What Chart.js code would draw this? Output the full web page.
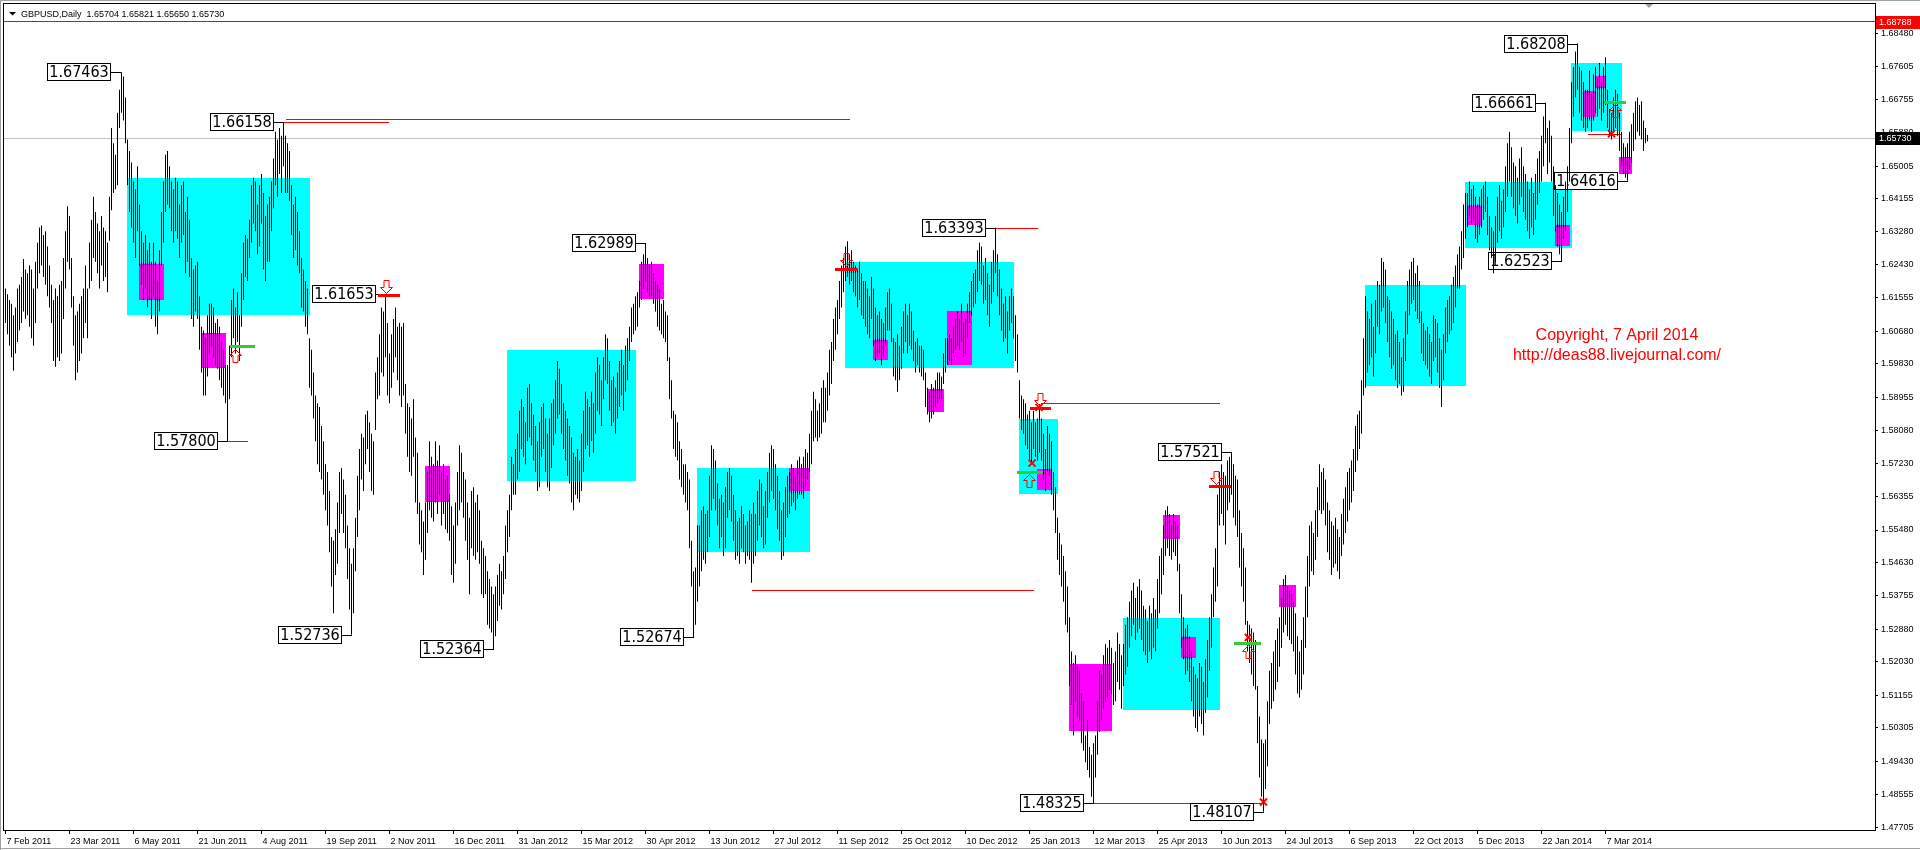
<!DOCTYPE html>
<html>
<head>
<meta charset="utf-8">
<title>GBPUSD, Daily</title>
<script src="https://cdn.jsdelivr.net/npm/chart.js@4.4.1/dist/chart.umd.min.js"></script>
<style>
  html, body { margin: 0; padding: 0; background: #fff; }
  #wrap { width: 1920px; height: 850px; }
</style>
</head>
<body>
<div id="wrap"><canvas id="gbpusd" width="1920" height="850"></canvas></div>
<script>
// daily bars as [high, low], in pips above 1.0000
const bars2011 = [
  [6180,6090],[6165,6060],[6150,6030],[6140,6000],[6110,5965],[6130,6010],[6180,6040],[6190,6070],[6210,6090],[6257,6120],
  [6230,6100],[6220,6110],[6240,6080],[6230,6050],[6180,6030],[6250,6090],[6300,6180],[6340,6220],[6345,6240],[6320,6210],
  [6330,6190],[6290,6160],[6240,6130],[6190,6090],[6150,5990],[6180,5975],[6160,6000],[6190,5990],[6200,6010],[6260,6100],
  [6330,6180],[6395,6250],[6370,6230],[6260,6130],[6160,6030],[6110,5940],[6120,5960],[6140,5990],[6160,6010],[6180,6050],
  [6240,6090],[6180,6050],[6300,6180],[6360,6200],[6420,6260],[6380,6250],[6350,6220],[6330,6180],[6370,6240],[6340,6200],
  [6330,6210],[6300,6170],[6420,6305],[6600,6385],[6560,6430],[6530,6440],[6640,6450],[6700,6600],[6746,6640],[6735,6620],
  [6680,6560],[6570,6450],[6540,6380],[6510,6340],[6460,6300],[6440,6260],[6500,6330],[6400,6240],[6330,6190],[6300,6150],
  [6320,6180],[6280,6130],[6300,6150],[6250,6100],[6300,6160],[6250,6080],[6200,6060],[6280,6120],[6380,6240],[6460,6300],
  [6530,6380],[6540,6400],[6500,6390],[6460,6330],[6440,6300],[6470,6330],[6460,6310],[6400,6260],[6450,6300],[6460,6320],
  [6380,6220],[6420,6250],[6360,6210],[6260,6100],[6230,6080],[6240,6120],[6250,6100],[6160,6020],[6080,5960],[6070,5900],
  [6050,5900],[6110,5950],[6140,6010],[6140,6030],[6130,6000],[6090,5980],[6100,5970],[6080,5940],[6040,5920],[6020,5900],
  [5980,5880],[5980,5780],[6030,5890],[6150,6000],[6180,6050],[6130,6010],[6170,6040],[6110,5990],[6220,6080],[6300,6150],
  [6320,6210],[6310,6200],[6360,6260],[6450,6300],[6470,6350],[6460,6330],[6400,6270],[6450,6290],[6480,6350],[6430,6230],
  [6370,6200],[6400,6250],[6420,6250],[6460,6330],[6520,6390],[6590,6450],[6570,6420],[6600,6480],[6580,6430],[6616,6500],
  [6580,6430],[6560,6430],[6540,6410],[6450,6320],[6400,6260],[6420,6280],[6380,6240],[6330,6220],[6260,6130],[6230,6120],
  [6200,6080],[6180,6060],[6050,5920],[6020,5900],[5960,5840],[5900,5780],[5880,5720],[5870,5700],[5820,5680],[5780,5640],
  [5720,5600],[5700,5560],[5650,5490],[5530,5400],[5520,5330],[5550,5430],[5620,5460],[5700,5540],[5710,5590],[5680,5540],
  [5640,5500],[5560,5420],[5500,5340],[5460,5274],[5500,5330],[5580,5440],[5690,5530],[5760,5600],[5800,5680],[5790,5650],
  [5850,5720],[5860,5760],[5830,5700],[5800,5650],[5780,5640],[5960,5810],[6000,5890],[6060,5900],[6130,5960],[6120,5950],
  [6165,6000],[6090,5900],[6010,5880],[6060,5920],[6100,5960],[6130,6000],[6080,5940],[6090,5900],[6080,5870],[6090,5900],
  [5930,5800],[5880,5740],[5870,5700],[5840,5690],[5890,5740],[5790,5620],[5750,5590],[5620,5510],[5600,5490],[5570,5430],
  [5620,5470],[5700,5540],[5780,5600],[5740,5580],[5720,5570],[5780,5620],[5730,5590],[5770,5640],[5700,5560],[5720,5590],
  [5680,5550],[5690,5540],[5640,5520],[5610,5430],[5560,5410],[5620,5460],[5700,5560],[5770,5600],[5750,5620],[5700,5580],
  [5680,5520],[5620,5470],[5580,5380],[5650,5500],[5660,5480]
];
const bars2012 = [
  [5620,5470],[5640,5490],[5600,5460],[5520,5380],[5500,5370],[5480,5380],[5440,5300],[5420,5290],[5400,5280],[5380,5236],
  [5400,5270],[5430,5310],[5460,5350],[5440,5340],[5480,5380],[5560,5420],[5600,5490],[5640,5530],[5740,5600],[5720,5640],
  [5760,5640],[5800,5680],[5860,5700],[5890,5760],[5870,5740],[5830,5720],[5920,5780],[5930,5790],[5880,5770],[5850,5730],
  [5820,5700],[5780,5650],[5830,5660],[5870,5740],[5880,5760],[5840,5700],[5800,5660],[5840,5650],[5880,5710],[5890,5770],
  [5940,5800],[5990,5840],[5970,5850],[5930,5800],[5880,5760],[5860,5730],[5840,5690],[5820,5670],[5790,5620],[5750,5600],
  [5740,5640],[5760,5630],[5730,5620],[5800,5650],[5860,5700],[5910,5760],[5890,5770],[5870,5740],[5910,5780],[5880,5750],
  [5960,5800],[6000,5860],[5980,5850],[5940,5820],[6000,5890],[6060,5940],[6050,5930],[5990,5860],[5940,5820],[5950,5830],
  [5920,5800],[5960,5840],[5990,5870],[6020,5900],[5980,5860],[6030,5910],[6050,5940],[6080,5990],[6130,6040],[6140,6060],
  [6160,6070],[6170,6080],[6200,6130],[6250,6150],[6270,6180],[6299,6200],[6260,6170],[6240,6160],[6250,6160],[6220,6140],
  [6200,6120],[6190,6080],[6180,6070],[6140,6060],[6150,6050],[6120,6040],[6110,5990],[6000,5890],[5940,5840],[5860,5760],
  [5850,5740],[5830,5730],[5780,5680],[5760,5660],[5720,5640],[5720,5620],[5700,5600],[5680,5500],[5520,5400],[5440,5268],
  [5450,5300],[5560,5360],[5560,5400],[5600,5440],[5610,5470],[5590,5460],[5600,5490],[5690,5530],[5770,5600],[5760,5630],
  [5730,5600],[5670,5560],[5630,5500],[5640,5530],[5620,5480],[5660,5500],[5700,5580],[5710,5600],[5690,5570],[5640,5520],
  [5600,5470],[5570,5480],[5580,5460],[5610,5500],[5590,5490],[5560,5460],[5570,5480],[5600,5470],[5590,5410],[5620,5460],
  [5590,5480],[5650,5520],[5680,5560],[5670,5530],[5610,5500],[5650,5510],[5700,5580],[5750,5620],[5770,5650],[5760,5630],
  [5720,5600],[5690,5550],[5650,5520],[5600,5470],[5620,5480],[5660,5530],[5690,5580],[5700,5590],[5720,5610],[5710,5620],
  [5690,5600],[5730,5630],[5740,5640],[5720,5640],[5740,5630],[5760,5660],[5750,5680],[5800,5700],[5860,5720],[5910,5780],
  [5890,5790],[5860,5780],[5880,5790],[5920,5800],[5940,5830],[5920,5830],[5960,5860],[6020,5900],[6040,5930],[6100,5990],
  [6130,6020],[6150,6060],[6200,6100],[6240,6130],[6260,6170],[6290,6200],[6304,6210],[6270,6190],[6280,6200],[6250,6170],
  [6240,6160],[6230,6130],[6250,6150],[6220,6110],[6200,6100],[6200,6080],[6180,6060],[6160,6050],[6210,6100],[6180,6030],
  [6130,5990],[6110,6000],[6120,6010],[6100,5980],[6090,6000],[6130,6030],[6170,6070],[6180,6070],[6140,6040],[6050,5950],
  [6040,5940],[6060,5910],[6030,5940],[6080,5970],[6120,6010],[6140,6040],[6110,6010],[6140,6030],[6120,6020],[6070,5990],
  [6040,5960],[6050,5980],[6030,5960],[6030,5950],[6020,5940],[5960,5870],[5920,5850],[5910,5830],[5930,5840],[5920,5850],
  [5940,5870],[5960,5880],[5960,5890],[5950,5890],[6010,5930],[6050,5960],[6050,5980],[6060,5990],[6050,5980],[6080,6010],
  [6100,6020],[6120,6030],[6100,6020],[6140,6040],[6090,6000],[6100,6010],[6140,6050],[6170,6090],[6200,6110],[6220,6130],
  [6230,6140],[6280,6170],[6300,6200],[6290,6190],[6240,6140],[6260,6150],[6220,6110],[6190,6080],[6250,6140]
];
const bars2013 = [
  [6280,6170],[6339,6220],[6270,6160],[6230,6110],[6180,6070],[6140,6040],[6160,6050],[6120,6010],[6160,6070],[6180,6090],
  [6160,6050],[6110,5990],[6060,5960],[5940,5840],[5900,5810],[5890,5800],[5880,5770],[5850,5760],[5860,5730],[5830,5720],
  [5860,5760],[5830,5740],[5840,5730],[5878,5750],[5840,5730],[5800,5680],[5760,5650],[5820,5700],[5800,5690],[5780,5640],
  [5700,5600],[5660,5540],[5580,5470],[5540,5430],[5510,5400],[5480,5360],[5440,5300],[5400,5280],[5320,5140],[5230,5090],
  [5200,5010],[5220,5100],[5190,5060],[5180,5050],[5120,4990],[5100,4970],[5010,4940],[5050,4920],[4980,4900],[4960,4850],
  [4990,4832],[5010,4900],[5100,4960],[5180,5020],[5170,5050],[5220,5080],[5250,5100],[5240,5110],[5260,5130],[5240,5120],
  [5200,5090],[5230,5100],[5280,5150],[5250,5130],[5220,5080],[5250,5140],[5300,5170],[5320,5190],[5360,5240],[5390,5270],
  [5410,5300],[5370,5260],[5400,5280],[5420,5290],[5390,5260],[5350,5230],[5340,5220],[5310,5200],[5350,5230],[5330,5210],
  [5370,5240],[5340,5230],[5420,5290],[5480,5330],[5500,5380],[5560,5430],[5600,5480],[5610,5500],[5590,5480],[5560,5470],
  [5590,5490],[5570,5480],[5560,5440],[5460,5330],[5380,5240],[5320,5210],[5290,5170],[5300,5180],[5270,5150],[5230,5100],
  [5190,5060],[5170,5030],[5160,5020],[5200,5060],[5190,5040],[5150,5010],[5210,5070],[5260,5110],[5320,5180],[5380,5240],
  [5450,5320],[5500,5360],[5640,5400],[5700,5560],[5720,5590],[5700,5560],[5690,5510],[5730,5600],[5740,5620],[5752,5640],
  [5720,5580],[5690,5560],[5680,5530],[5600,5450],[5540,5400],[5500,5360],[5450,5300],[5310,5230],[5300,5200],[5290,5170],
  [5280,5140],[5260,5130],[5140,4990],[5060,4900],[5000,4850],[4990,4811],[5000,4870],[5100,4930],[5180,5040],[5200,5080],
  [5230,5100],[5260,5130],[5290,5150],[5320,5190],[5370,5240],[5420,5280],[5430,5300],[5400,5270],[5390,5260],[5380,5250],
  [5360,5230],[5330,5170],[5270,5120],[5230,5110],[5260,5130],[5320,5170],[5400,5240],[5480,5320],[5560,5400],[5570,5440],
  [5540,5430],[5600,5470],[5660,5530],[5720,5600],[5700,5590],[5710,5600],[5680,5560],[5620,5490],[5600,5470],[5570,5430],
  [5560,5450],[5580,5460],[5550,5440],[5530,5420],[5590,5480],[5630,5510],[5660,5540],[5700,5570],[5710,5600],[5730,5620],
  [5760,5650],[5820,5700],[5850,5730],[5860,5760],[5940,5800],[6050,5900],[6160,5920],[6120,5960],[6100,5980],[6140,6000],
  [6080,5950],[6150,6010],[6200,6080],[6190,6060],[6260,6120],[6250,6130],[6230,6090],[6160,6040],[6150,6000],[6120,5970],
  [6100,5980],[6060,5940],[6070,5920],[6040,5930],[6000,5900],[6050,5910],[6120,5990],[6200,6060],[6230,6110],[6250,6140],
  [6260,6150],[6220,6120],[6240,6100],[6200,6090],[6120,6010],[6090,5990],[6070,5980],[6080,5970],[6060,5950],[6040,5930],
  [6110,5990],[6100,6000],[6090,5960],[6050,5920],[6020,5870],[6060,5940],[6130,6010],[6150,6040],[6160,6060],[6190,6070],
  [6210,6090],[6240,6130],[6270,6180],[6290,6180],[6330,6230],[6400,6260],[6430,6310],[6430,6340],[6460,6370],[6440,6350],
  [6450,6360],[6420,6310],[6400,6300],[6420,6320],[6440,6340],[6450,6360],[6460,6380],[6420,6320],[6370,6280],[6340,6260],
  [6330,6220],[6370,6250],[6420,6300],[6450,6330],[6410,6310],[6440,6340],[6500,6380],[6560,6420],[6590,6460]
];
const bars2014 = [
  [6550,6420],[6510,6390],[6500,6370],[6470,6350],[6520,6400],[6550,6420],[6500,6380],[6480,6360],[6460,6330],[6440,6310],
  [6470,6340],[6430,6320],[6480,6360],[6520,6400],[6540,6430],[6580,6460],[6630,6500],[6666,6560],[6600,6480],[6620,6510],
  [6580,6460],[6500,6370],[6450,6330],[6430,6290],[6400,6270],[6380,6252],[6420,6310],[6460,6330],[6500,6380],[6600,6460],
  [6720,6560],[6760,6630],[6800,6680],[6821,6700],[6760,6640],[6750,6620],[6720,6600],[6700,6590],[6700,6600],[6750,6620],
  [6690,6590],[6740,6620],[6760,6640],[6730,6630],[6770,6650],[6720,6620],[6760,6640],[6785,6660],[6700,6600],[6650,6580],
  [6640,6570],[6680,6590],[6700,6600],[6690,6580],[6640,6540],[6590,6500],[6560,6480],[6550,6470],[6560,6462],[6590,6490],
  [6610,6510],[6640,6540],[6670,6570],[6680,6590],[6660,6580],[6670,6570],[6620,6540],[6600,6560],[6582,6565]
];

// one date label every 32 bars
const dateLabels = ["7 Feb 2011","23 Mar 2011","6 May 2011","21 Jun 2011","4 Aug 2011","19 Sep 2011","2 Nov 2011",
  "16 Dec 2011","31 Jan 2012","15 Mar 2012","30 Apr 2012","13 Jun 2012","27 Jul 2012","11 Sep 2012","25 Oct 2012",
  "10 Dec 2012","25 Jan 2013","12 Mar 2013","25 Apr 2013","10 Jun 2013","24 Jul 2013","6 Sep 2013","22 Oct 2013",
  "5 Dec 2013","22 Jan 2014","7 Mar 2014"];
const priceTicks = [1.68480,1.67605,1.66755,1.65880,1.65005,1.64155,1.63280,1.62430,1.61555,1.60680,1.59830,1.58955,
  1.58080,1.57230,1.56355,1.55480,1.54630,1.53755,1.52880,1.52030,1.51155,1.50305,1.49430,1.48555,1.47705];

// zigzag swing labels: text, bar index
const zigzag = [["1.67463",58],["1.66158",139],["1.57800",111],["1.52736",173],["1.61653",190],["1.52364",244],
  ["1.62989",320],["1.52674",344],["1.63393",495],["1.48325",544],["1.57521",613],["1.48107",629],
  ["1.62523",778],["1.66661",770],["1.68208",786],["1.64616",811]];

// [first bar, last bar, top pips, bottom pips]
const rangeBoxes = [[61,152,6469,6110],[251,315,6019,5675],[346,402,5711,5491],[420,504,6249,5971],[507,526,5839,5641],
  [559,607,5318,5076],[680,730,6190,5926],[730,783,6458,6287],[783,808,6771,6592]];
const signalBoxes = [[67,79,6243,6150],[98,110,6063,5971],[210,222,5716,5622],[317,329,6244,6152],[392,402,5711,5650],
  [434,441,6044,5992],[461,469,5918,5858],[471,483,6121,5981],[516,523,5707,5653],[532,553,5198,5022],
  [579,587,5587,5524],[588,595,5267,5213],[637,645,5405,5346],[731,738,6395,6345],[775,782,6345,6291],
  [789,795,6697,6628],[795,800,6737,6705],[807,813,6525,6481]];

// [first bar, last bar, pips]
const levelLines = [[140,422,6623],[139,191.5,6615],[111,121,5779],[495,516,6338],[373,514,5391],
  [517.5,607,5878],[544,629,4832],[791,808,6582]];
const stopLines = [[186,197,6161],[414.5,426,6231],[512,522.5,5866],[601.7,612.5,5661]];
const targetLines = [[112,124.5,6027],[505.6,518.6,5699],[614.3,627.6,5251],[799.4,810.6,6668]];
// [bar, pips]
const sellArrows = [[190.3,6161],[420.3,6231],[517.3,5866],[605.3,5661]];
const buyArrows = [[114.8,6027],[511.8,5699],[621.3,5251],[804.8,6668]];
const crosses = [[513.3,5723],[516.7,5869],[621.4,5267],[629,4836],[803,6585]];

const bidPrice = 1.65730;
const alertPrice = 1.68788;
const headerText = "GBPUSD,Daily  1.65704 1.65821 1.65650 1.65730";
const noteLines = ["Copyright, 7 April 2014", "http://deas88.livejournal.com/"];

const pip = v => 1 + v / 10000;
const AXIS_FONT = { family: '"Liberation Sans", Arial, sans-serif', size: 9 };

const allBars = bars2011.concat(bars2012, bars2013, bars2014);
const barPoints = allBars.map((b, i) => ({ x: i, y: [pip(b[1]), pip(b[0])] }));

function hline(ctx, x0, x1, yy, color, w) {
  ctx.fillStyle = color;
  ctx.fillRect(Math.round(x0), Math.round(yy - w / 2), Math.round(x1 - x0), w);
}

function arrow(ctx, cx, tip, dir) {
  // dir 1: pointing down, -1: pointing up
  ctx.beginPath();
  ctx.moveTo(cx - 2.5, tip - dir * 13);
  ctx.lineTo(cx + 2.5, tip - dir * 13);
  ctx.lineTo(cx + 2.5, tip - dir * 6);
  ctx.lineTo(cx + 6, tip - dir * 6);
  ctx.lineTo(cx, tip);
  ctx.lineTo(cx - 6, tip - dir * 6);
  ctx.lineTo(cx - 2.5, tip - dir * 6);
  ctx.closePath();
  ctx.strokeStyle = '#ff0000';
  ctx.lineWidth = 1;
  ctx.stroke();
}

const mtObjects = {
  id: 'mtObjects',
  beforeDatasetsDraw(chart) {
    const { ctx, chartArea: a, scales: { x, y } } = chart;
    const px = i => x.getPixelForValue(i);
    const py = p => y.getPixelForValue(pip(p));
    ctx.save();
    ctx.beginPath();
    ctx.rect(a.left, a.top, a.right - a.left, a.bottom - a.top);
    ctx.clip();

    ctx.fillStyle = '#00ffff';
    rangeBoxes.forEach(([i0, i1, hi, lo]) => {
      const x0 = Math.round(px(i0) - 0.5), x1 = Math.round(px(i1) + 0.5);
      ctx.fillRect(x0, Math.round(py(hi)), x1 - x0, Math.round(py(lo)) - Math.round(py(hi)));
    });
    ctx.fillStyle = '#ff00ff';
    signalBoxes.forEach(([i0, i1, hi, lo]) => {
      const x0 = Math.round(px(i0) - 0.5), x1 = Math.round(px(i1) + 0.5);
      ctx.fillRect(x0, Math.round(py(hi)), x1 - x0, Math.round(py(lo)) - Math.round(py(hi)));
    });

    hline(ctx, a.left, a.right, y.getPixelForValue(bidPrice), '#c0c0c0', 1);
    hline(ctx, a.left, a.right, y.getPixelForValue(alertPrice), '#ff0000', 1);
    levelLines.forEach(([i0, i1, p]) => hline(ctx, px(i0), px(i1), py(p), '#ff0000', 1));

    // swing labels sit under the bars
    ctx.font = '16px "DejaVu Sans Condensed", "Liberation Sans", sans-serif';
    ctx.textAlign = 'center';
    ctx.textBaseline = 'middle';
    zigzag.forEach(([txt, bar]) => {
      const yc = Math.round(y.getPixelForValue(parseFloat(txt)));
      const bx = Math.round(px(bar));
      const right = bx - 10;
      const w = Math.ceil(ctx.measureText(txt).width) + 4;
      ctx.fillStyle = '#000';
      ctx.fillRect(right, yc, bx - right, 1);
      ctx.fillStyle = '#fff';
      ctx.fillRect(right - w, yc - 9, w, 18);
      ctx.strokeStyle = '#000';
      ctx.lineWidth = 1;
      ctx.strokeRect(right - w + 0.5, yc - 8.5, w - 1, 17);
      ctx.fillStyle = '#000';
      ctx.fillText(txt, right - w / 2, yc + 1);
    });
    ctx.restore();
  },
  afterDatasetsDraw(chart) {
    const { ctx, chartArea: a, scales: { x, y } } = chart;
    const px = i => x.getPixelForValue(i);
    const py = p => y.getPixelForValue(pip(p));
    ctx.save();
    stopLines.forEach(([i0, i1, p]) => hline(ctx, px(i0), px(i1), py(p), '#ff0000', 3));
    targetLines.forEach(([i0, i1, p]) => hline(ctx, px(i0), px(i1), py(p), '#32cd32', 3));
    sellArrows.forEach(([i, p]) => arrow(ctx, Math.round(px(i)) + 0.5, Math.round(py(p)) - 2.5, 1));
    buyArrows.forEach(([i, p]) => arrow(ctx, Math.round(px(i)) + 0.5, Math.round(py(p)) + 2.5, -1));
    ctx.strokeStyle = '#ff0000';
    ctx.lineWidth = 2;
    crosses.forEach(([i, p]) => {
      const cx = px(i), cy = py(p);
      ctx.beginPath();
      ctx.moveTo(cx - 3.5, cy - 3.5); ctx.lineTo(cx + 3.5, cy + 3.5);
      ctx.moveTo(cx + 3.5, cy - 3.5); ctx.lineTo(cx - 3.5, cy + 3.5);
      ctx.stroke();
    });

    // copyright note
    ctx.fillStyle = '#ff0000';
    ctx.font = '16px "Liberation Sans", Arial, sans-serif';
    ctx.textAlign = 'center';
    ctx.textBaseline = 'alphabetic';
    ctx.fillText(noteLines[0], 1617, 340);
    ctx.fillText(noteLines[1], 1617, 360);

    // header
    ctx.fillStyle = '#000';
    ctx.beginPath();
    ctx.moveTo(9, 12); ctx.lineTo(16, 12); ctx.lineTo(12.5, 15.5); ctx.closePath();
    ctx.fill();
    ctx.font = '9px "Liberation Sans", Arial, sans-serif';
    ctx.textAlign = 'left';
    ctx.fillText(headerText, 21, 17);

    // chart shift marker
    ctx.fillStyle = '#a0a0a0';
    ctx.beginPath();
    ctx.moveTo(1645, 4); ctx.lineTo(1653, 4); ctx.lineTo(1649, 8); ctx.closePath();
    ctx.fill();
    ctx.restore();
  },
  afterDraw(chart) {
    const { ctx, chartArea: a, scales: { y } } = chart;
    ctx.save();
    ctx.strokeStyle = '#000';
    ctx.lineWidth = 1;
    ctx.strokeRect(a.left - 0.5, a.top - 0.5, a.right - a.left + 1, a.bottom - a.top + 1);
    ctx.fillStyle = '#a0a0a0';
    ctx.fillRect(0, 0, 1920, 1);
    ctx.fillRect(0, 0, 1, 850);
    ctx.fillRect(0, 848, 1920, 1);

    ctx.font = '9px "Liberation Sans", Arial, sans-serif';
    ctx.textAlign = 'left';
    ctx.textBaseline = 'middle';
    const tag = (price, bg) => {
      const yy = Math.round(y.getPixelForValue(price));
      ctx.fillStyle = bg;
      ctx.fillRect(a.right + 1, yy - 6, 44, 13);
      ctx.fillStyle = '#fff';
      ctx.fillText(price.toFixed(5), a.right + 4, yy + 1);
    };
    tag(alertPrice, '#ff0000');
    tag(bidPrice, '#000000');
    ctx.restore();
  }
};

new Chart(document.getElementById('gbpusd'), {
  type: 'bar',
  data: {
    datasets: [{
      label: 'GBPUSD',
      data: barPoints,
      backgroundColor: '#000000',
      borderWidth: 0,
      barThickness: 1,
      inflateAmount: 0
    }]
  },
  options: {
    responsive: false,
    animation: false,
    devicePixelRatio: 1,
    events: [],
    layout: { padding: { left: 4, top: 4, right: 0, bottom: 0 } },
    plugins: { legend: { display: false }, tooltip: { enabled: false } },
    scales: {
      x: {
        type: 'linear',
        min: -0.75,
        max: 934.75,
        offset: false,
        afterBuildTicks: s => { s.ticks = dateLabels.map((_, k) => ({ value: k * 32 })); },
        afterFit: s => { s.height = 20; s.paddingLeft = 0; s.paddingRight = 0; },
        ticks: {
          callback: v => dateLabels[Math.round(v / 32)],
          align: 'start',
          labelOffset: 1,
          maxRotation: 0,
          autoSkip: false,
          padding: 2,
          color: '#000',
          font: AXIS_FONT
        },
        grid: { drawOnChartArea: false, offset: false, tickLength: 4, color: '#000' },
        border: { display: false }
      },
      y: {
        position: 'right',
        min: 1.476292,
        max: 1.692460,
        beginAtZero: false,
        afterBuildTicks: s => { s.ticks = priceTicks.map(v => ({ value: v })); },
        afterFit: s => { s.width = 45; s.paddingTop = 0; s.paddingBottom = 0; },
        ticks: {
          callback: v => v.toFixed(5),
          autoSkip: false,
          padding: 3,
          color: '#000',
          font: AXIS_FONT
        },
        grid: { drawOnChartArea: false, tickLength: 3, color: '#000' },
        border: { display: false }
      }
    }
  },
  plugins: [mtObjects]
});
</script>
</body>
</html>
